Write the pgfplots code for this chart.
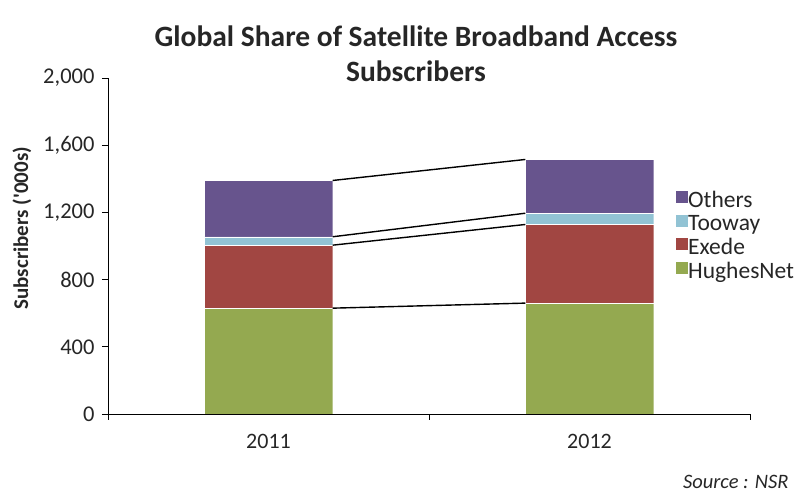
\documentclass[border=0pt]{standalone}
\usepackage{pgfplots}
\pgfplotsset{compat=1.18}
\usepackage{fontspec}
\setmainfont{Carlito}
\definecolor{cH}{RGB}{148,169,80}
\definecolor{cE}{RGB}{161,70,66}
\definecolor{cT}{RGB}{146,195,212}
\definecolor{cO}{RGB}{103,84,141}
\definecolor{txt}{RGB}{38,38,38}
\begin{document}
\begin{tikzpicture}[x=1pt,y=1pt]
\useasboundingbox (0,0) rectangle (800,494);
\pgfplotsset{common/.style={at={(108pt,80pt)}, anchor=south west, scale only axis,
  width=642pt, height=336pt, xmin=-0.5, xmax=1.5, ymin=0, ymax=2000}}
\begin{axis}[common, ybar stacked, bar width=0.4,
  axis lines*=left, axis line style={black, line width=0.9pt},
  xtick={0,1}, xticklabels={2011,2012},
  ytick={0,400,...,2000},
  minor xtick={-0.5,0.5,1.5},
  tick align=outside, major tick length=6pt, minor tick length=6pt,
  major x tick style={draw=none},
  minor x tick style={black, line width=0.9pt},
  major y tick style={black, line width=0.9pt},
  /pgf/number format/assume math mode=true,
  /pgf/number format/1000 sep={,},
  scaled y ticks=false,
  yticklabel style={font=\fontsize{22.5}{22.5}\selectfont, text=txt, xshift=-4pt},
  xticklabel style={font=\fontsize{22}{22}\selectfont, text=txt, yshift=-11pt},
  ylabel={Subscribers (\textquotesingle000s)},
  ylabel style={font=\bfseries\fontsize{21}{21}\selectfont, text=txt,
    at={(rel axis cs:-0.134,0.553)}, anchor=center},
  legend style={at={(0.883,0.667)}, anchor=north west, draw=none, fill=none,
    inner sep=0pt, outer sep=0pt,
    font=\fontsize{23.5}{23.5}\selectfont, text=txt, row sep=1.6pt,
    nodes={inner sep=0pt, text height=15pt, text depth=5pt},
    /tikz/every even column/.append style={column sep=4pt}},
  legend cell align=left,
  reverse legend,
  legend image code/.code={\fill[#1] (-2pt,-1pt) rectangle (11pt,12pt);},
]
\addplot[fill=cH, draw=white, line width=0.3pt] coordinates {(0,630) (1,660)};
\addplot[fill=cE, draw=white, line width=0.3pt] coordinates {(0,375) (1,468)};
\addplot[fill=cT, draw=white, line width=0.3pt] coordinates {(0,50) (1,67)};
\addplot[fill=cO, draw=white, line width=0.3pt] coordinates {(0,335) (1,320)};
\legend{HughesNet,Exede,Tooway,Others}
\end{axis}
\begin{axis}[common, hide axis]
\addplot[black, line width=1.4pt] coordinates {(0.2,630) (0.8,660)};
\addplot[black, line width=1.4pt] coordinates {(0.2,1005) (0.8,1128)};
\addplot[black, line width=1.4pt] coordinates {(0.2,1055) (0.8,1195)};
\addplot[black, line width=1.4pt] coordinates {(0.2,1390) (0.8,1515)};
\end{axis}
\node[font=\bfseries\fontsize{29.5}{29.5}\selectfont, text=txt] at (416,458) {Global Share of Satellite Broadband Access};
\node[font=\bfseries\fontsize{29.5}{29.5}\selectfont, text=txt] at (416,423) {Subscribers};
\node[font=\itshape\fontsize{20.5}{20.5}\selectfont, text=txt, anchor=east] at (792,12) {Source : NSR};
\end{tikzpicture}
\end{document}
